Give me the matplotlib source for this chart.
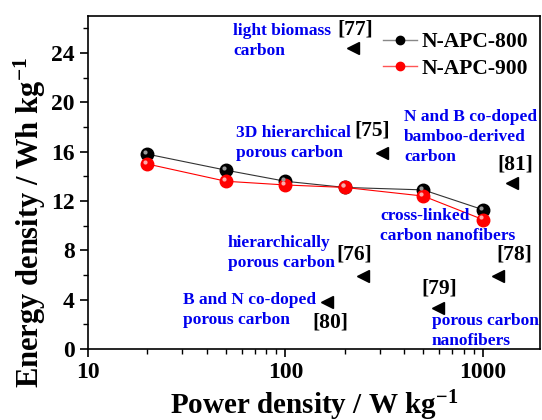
import numpy as np
import matplotlib
matplotlib.use("Agg")
import matplotlib.pyplot as plt
from matplotlib.ticker import MultipleLocator, FixedLocator
from matplotlib.transforms import offset_copy

plt.rcParams['font.family'] = 'Liberation Serif'
plt.rcParams['font.weight'] = 'bold'
plt.rcParams['mathtext.fontset'] = 'custom'
plt.rcParams['mathtext.rm'] = 'Liberation Serif:bold'
plt.rcParams['mathtext.it'] = 'Liberation Serif:bold'
plt.rcParams['mathtext.bf'] = 'Liberation Serif:bold'

# data
power = [20, 50, 100, 200, 500, 1000]
apc800 = [15.8, 14.5, 13.6, 13.1, 12.9, 11.3]
apc900 = [15.0, 13.6, 13.3, 13.1, 12.4, 10.5]

# literature points (left triangles)
ref_labels = ["[77]", "[75]", "[81]", "[76]", "[80]", "[79]", "[78]"]
ref_power = [219, 310, 1400, 246, 162, 590, 1190]
ref_energy = [24.4, 15.9, 13.5, 5.9, 3.8, 3.3, 5.9]

fig = plt.figure(figsize=(5.42, 4.2), dpi=100)
ax = fig.add_axes([88/542, 71/420, 452/542, 333/420])

def px(x, y):
    # pixel position in the figure -> axes fraction
    return (x - 88) / 452, (349 - y) / 333

ax.plot(power, apc800, '-', color='#333333', lw=0.8, marker='o', ms=9,
        mfc='black', mec='black', zorder=3)
ax.plot(power, apc900, '-', color='red', lw=0.8, marker='o', ms=9,
        mfc='red', mec='red', zorder=3)
# small highlight to fake the shaded balls
hl = offset_copy(ax.transData, fig=fig, x=-1.5, y=1.5, units='points')
ax.plot(power, apc800, 'o', ms=3, mfc='#999999', mec='none', zorder=4, transform=hl)
ax.plot(power, apc900, 'o', ms=3, mfc='#ffaaaa', mec='none', zorder=4, transform=hl)

# legend handles (grey line for the black series, as in the original)
ax.plot([], [], '-', color='#888888', lw=1, marker='o', ms=6,
        mfc='black', mec='black', label='N-APC-800')
ax.plot([], [], '-', color='#ff5555', lw=1, marker='o', ms=6,
        mfc='red', mec='red', label='N-APC-900')

ax.plot(ref_power, ref_energy, '<', color='black', ms=8, ls='none', zorder=3)

ax.set_xscale('log')
ax.set_xlim(10, 1950)
ax.set_ylim(0, 27)
ax.yaxis.set_major_locator(FixedLocator([0, 4, 8, 12, 16, 20, 24]))
ax.yaxis.set_minor_locator(MultipleLocator(2))
ax.set_xticks([10, 100, 1000])
ax.set_xticklabels(['10', '100', '1000'])
ax.tick_params(which='major', direction='out', length=6, width=1.2, labelsize=17)
ax.tick_params(which='minor', direction='out', length=3.5, width=1)
for s in ax.spines.values():
    s.set_linewidth(1.2)
for lab in ax.get_xticklabels() + ax.get_yticklabels():
    lab.set_fontweight('bold')

ax.set_xlabel('Power density / W kg$^{-1}$', fontsize=21, fontweight='bold', labelpad=4)
ax.set_ylabel('Energy density / Wh kg$^{-1}$', fontsize=22, fontweight='bold')
ax.yaxis.set_label_coords(-0.088, 0.38)

blue = dict(color='#0000ee', fontsize=12.5, fontweight='bold', linespacing=1.3,
            transform=ax.transAxes, va='center')
big = dict(color='black', fontsize=15.5, fontweight='bold',
           transform=ax.transAxes, ha='center', va='center')

ax.text(*px(233, 41), 'light biomass\ncarbon', ha='left', **blue)
ax.text(*px(355, 29), '[77]', **big)
ax.text(*px(236, 143), '3D hierarchical\nporous carbon', ha='left', **blue)
ax.text(*px(372, 130), '[75]', **big)
ax.text(*px(404, 137), 'N and B co-doped\nbamboo-derived\ncarbon', ha='left', **blue)
ax.text(*px(515, 164), '[81]', **big)
ax.text(*px(380, 226), 'cross-linked\ncarbon nanofibers', ha='left', **blue)
ax.text(*px(228, 253), 'hierarchically\nporous carbon', ha='left', **blue)
ax.text(*px(354, 255), '[76]', **big)
ax.text(*px(183, 310), 'B and N co-doped\nporous carbon', ha='left', **blue)
ax.text(*px(330, 323), '[80]', **big)
ax.text(*px(439, 289), '[79]', **big)
ax.text(*px(432, 331), 'porous carbon\nnanofibers', ha='left', **blue)
ax.text(*px(514, 255), '[78]', **big)

leg = ax.legend(loc='upper left', bbox_to_anchor=px(383, 32), frameon=False,
                fontsize=15.5, handlelength=1.6, handletextpad=0.2,
                labelspacing=0.3, borderpad=0, borderaxespad=0)

fig.savefig('out.png', dpi=100)
